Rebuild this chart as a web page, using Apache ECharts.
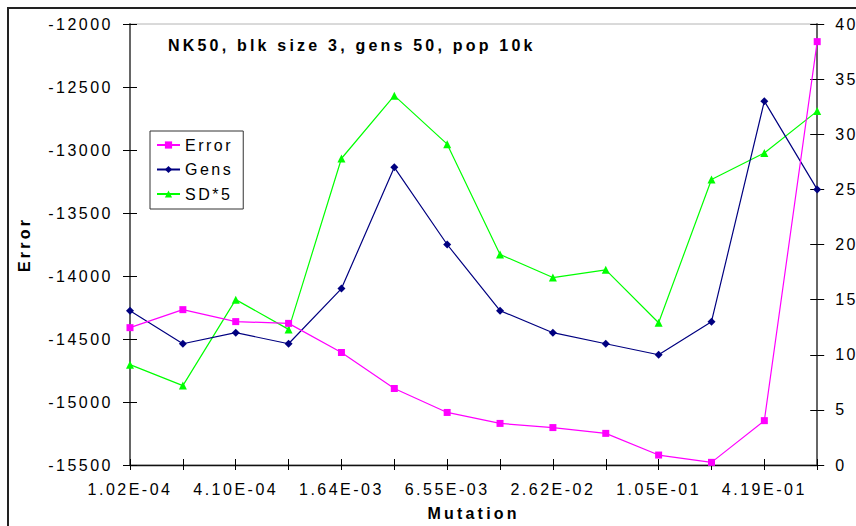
<!DOCTYPE html>
<html>
<head>
<meta charset="utf-8">
<script src="https://cdn.jsdelivr.net/npm/echarts@6/dist/echarts.min.js"></script>
<style>
  html, body { margin: 0; padding: 0; background: #fff; }
  #chart { width: 856px; height: 526px; }
  #chart text { letter-spacing: 2.5px; }
  #chart text[style*="bold"] { letter-spacing: 3.2px; }
</style>
</head>
<body>
<div id="chart"></div>
<script>
// Mutation rates (doubling steps)
const mutation = ['1.02E-04', '2.05E-04', '4.10E-04', '8.19E-04', '1.64E-03', '3.28E-03', '6.55E-03',
  '1.31E-02', '2.62E-02', '5.24E-02', '1.05E-01', '2.10E-01', '4.19E-01', '8.39E-01'];

// Mean error (left axis)
const errorValues = [-14410, -14267, -14362, -14376, -14607, -14893, -15083,
  -15170, -15203, -15249, -15421, -15479, -15148, -12140];

// Generations to converge (right axis)
const gensValues = [14, 11, 12, 11, 16, 27, 20, 14, 12, 11, 10, 13, 33, 25];

// Standard deviation times five (right axis)
const sd5Values = [9.1, 7.2, 15.0, 12.3, 27.8, 33.5, 29.1, 19.1, 17.0, 17.7, 12.9, 25.9, 28.3, 32.1];

const FONT = '"Liberation Sans", Arial, sans-serif';

const chart = echarts.init(document.getElementById('chart'), null, { renderer: 'svg' });

const tickStyle = { color: '#000', width: 1 };
const plain = v => String(v);

chart.setOption({
  backgroundColor: '#fff',
  animation: false,
  textStyle: { fontFamily: FONT },
  title: {
    text: 'NK50, blk size 3, gens 50, pop 10k',
    left: 168, top: 37, padding: 0,
    textStyle: { fontFamily: FONT, fontSize: 16, fontWeight: 'bold', color: '#000' }
  },
  legend: {
    orient: 'vertical',
    left: 150, top: 131,
    padding: [6, 20, 7, 6],
    itemGap: 8.5,
    itemWidth: 23,
    itemHeight: 9,
    borderColor: '#333',
    borderWidth: 1,
    textStyle: { fontFamily: FONT, fontSize: 16, color: '#000' },
    data: ['Error', 'Gens', 'SD*5']
  },
  grid: {
    left: 130, right: 37, top: 24, bottom: 60,
    show: true, borderColor: '#b4b4b4', borderWidth: 1
  },
  graphic: [{
    type: 'rect', silent: true, z: 100,
    shape: { x: 8, y: 8, width: 1000, height: 1000 },
    style: { fill: null, stroke: '#222', lineWidth: 2 }
  }],
  xAxis: [{
    type: 'category', data: mutation, boundaryGap: false,
    name: 'Mutation', nameLocation: 'middle', nameGap: 40,
    nameTextStyle: { fontFamily: FONT, fontSize: 16, fontWeight: 'bold', color: '#000' },
    axisLine: { lineStyle: { color: '#111', width: 1.3 } },
    axisTick: { show: true, interval: 0, length: 5, lineStyle: tickStyle },
    axisLabel: { interval: 1, margin: 16, fontSize: 16, color: '#000', fontFamily: FONT },
    splitLine: { show: false }
  }, {
    type: 'category', data: mutation, boundaryGap: false, position: 'bottom',
    axisLine: { show: false },
    axisTick: { show: true, inside: true, interval: 0, length: 6, lineStyle: tickStyle },
    axisLabel: { show: false },
    splitLine: { show: false }
  }],
  yAxis: [{
    type: 'value', position: 'left', min: -15500, max: -12000, interval: 500,
    name: 'Error', nameLocation: 'middle', nameGap: 98, nameRotate: 90,
    nameTextStyle: { fontFamily: FONT, fontSize: 16, fontWeight: 'bold', color: '#000' },
    axisLine: { show: true, lineStyle: { color: '#666', width: 2 } },
    axisTick: { show: true, length: 7, lineStyle: tickStyle },
    axisLabel: { margin: 17, fontSize: 16, color: '#000', fontFamily: FONT, formatter: plain },
    splitLine: { show: false }
  }, {
    type: 'value', position: 'right', min: 0, max: 40, interval: 5,
    axisLine: { show: true, lineStyle: { color: '#666', width: 2 } },
    axisTick: { show: true, length: 7, lineStyle: tickStyle },
    axisLabel: { margin: 18, fontSize: 16, color: '#000', fontFamily: FONT, formatter: plain },
    splitLine: { show: false }
  }, {
    type: 'value', position: 'left', min: -15500, max: -12000, interval: 500,
    axisLine: { show: false },
    axisTick: { show: true, inside: true, length: 7, lineStyle: tickStyle },
    axisLabel: { show: false },
    splitLine: { show: false }
  }, {
    type: 'value', position: 'right', min: 0, max: 40, interval: 5,
    axisLine: { show: false },
    axisTick: { show: true, inside: true, length: 7, lineStyle: tickStyle },
    axisLabel: { show: false },
    splitLine: { show: false }
  }],
  series: [{
    name: 'Error', type: 'line', xAxisIndex: 0, yAxisIndex: 0,
    data: errorValues,
    symbol: 'rect', symbolSize: 7,
    lineStyle: { color: '#ff00ff', width: 1.2 },
    itemStyle: { color: '#ff00ff' },
    z: 3
  }, {
    name: 'Gens', type: 'line', xAxisIndex: 0, yAxisIndex: 1,
    data: gensValues,
    symbol: 'diamond', symbolSize: 8,
    lineStyle: { color: '#000080', width: 1.2 },
    itemStyle: { color: '#000080' },
    z: 2
  }, {
    name: 'SD*5', type: 'line', xAxisIndex: 0, yAxisIndex: 1,
    data: sd5Values,
    symbol: 'triangle', symbolSize: 8,
    lineStyle: { color: '#00ff00', width: 1.2 },
    itemStyle: { color: '#00ff00' },
    z: 1
  }]
});
</script>
</body>
</html>
